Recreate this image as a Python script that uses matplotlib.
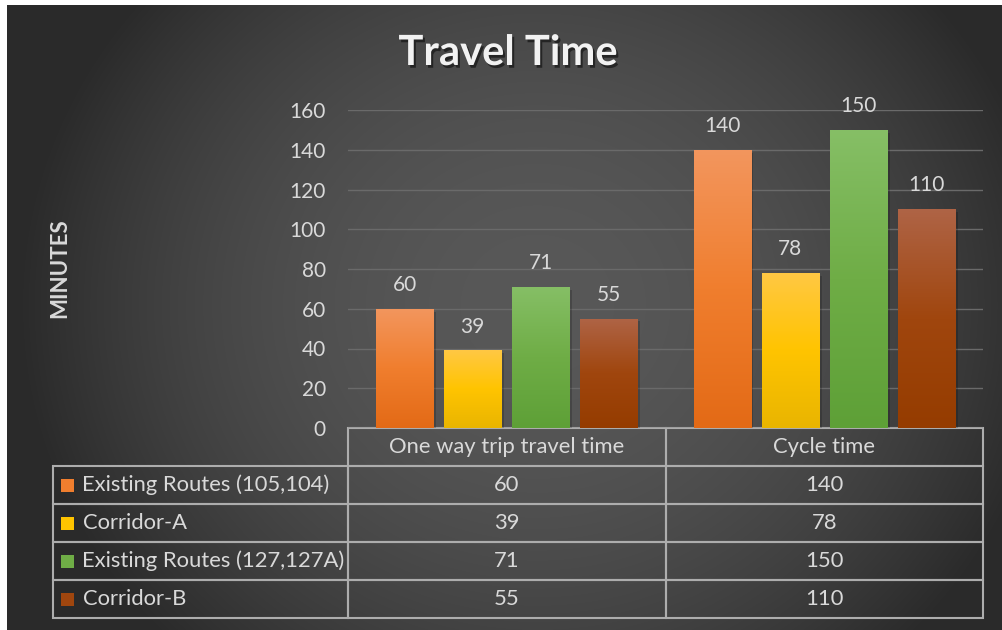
import numpy as np
import matplotlib.pyplot as plt
import matplotlib.patheffects as pe
from matplotlib.patches import Rectangle
from matplotlib.colors import LinearSegmentedColormap

plt.rcParams['font.family'] = ['Lato', 'DejaVu Sans']

# data
categories = ['One way trip travel time', 'Cycle time']
series = ['Existing Routes (105,104)', 'Corridor-A',
          'Existing Routes (127,127A)', 'Corridor-B']
existing_105_104 = [60, 140]
corridor_a = [39, 78]
existing_127 = [71, 150]
corridor_b = [55, 110]
values = [existing_105_104, corridor_a, existing_127, corridor_b]
yticks = [0, 20, 40, 60, 80, 100, 120, 140, 160]

# gradient stops per series: top, middle, bottom
bar_colors = [
    ['#F3965E', '#F07E2E', '#E36A16'],
    ['#FFC844', '#FFC400', '#E9B500'],
    ['#86BF66', '#6FAD46', '#5EA037'],
    ['#AF6446', '#A0460E', '#953C00'],
]
txt = '#D9D9D9'

W, H = 1003, 630
fig = plt.figure(figsize=(W / 100, H / 100), dpi=100, facecolor='white')

# background: soft radial gradient, offset like the original screenshot
bg = fig.add_axes([7 / W, 0, (W - 7) / W, (H - 5) / H])
bg.axis('off')
yy, xx = np.mgrid[0:625, 0:996]
r2 = ((xx - 530) / 520.0) ** 2 + ((yy - 300) / 480.0) ** 2
shade = 42 + 46 * np.clip(1 - r2, 0, 1)
bg.imshow(np.dstack([shade, shade, shade]) / 255.0, aspect='auto',
          extent=[0, 1, 0, 1])
bg.set_xlim(0, 1)
bg.set_ylim(0, 1)

# plot area
ax = fig.add_axes([348 / W, 1 - 428 / H, 635 / W, 318 / H])
ax.patch.set_alpha(0)
for s in ax.spines.values():
    s.set_visible(False)

x = np.arange(len(categories)) + 0.5
step = 0.2145
width = 0.18
grad = np.linspace(0, 1, 256).reshape(-1, 1)
for i, (vals, cols) in enumerate(zip(values, bar_colors)):
    bars = ax.bar(x + (i - 1.5) * step, vals, width, color=cols[1], zorder=3)
    cmap = LinearSegmentedColormap.from_list('g%d' % i, cols[::-1])
    for b in bars:
        b.set_path_effects([pe.SimplePatchShadow(offset=(2, -2), shadow_rgbFace='black', alpha=0.18),
                            pe.Normal()])
        im = ax.imshow(grad, cmap=cmap, origin='lower', aspect='auto', zorder=4,
                       extent=[b.get_x(), b.get_x() + b.get_width(), 0, b.get_height()])
        im.set_clip_path(b)
    ax.bar_label(bars, padding=10, color=txt, fontsize=15, zorder=5)

ax.set_xlim(0, 2)
ax.set_ylim(0, 160)
ax.set_yticks(yticks)
ax.set_xticks([])
ax.tick_params(axis='y', length=0, pad=16, labelsize=15, labelcolor=txt)
ax.yaxis.grid(True, color='#6A6A6A', linewidth=1)
ax.set_axisbelow(True)

ax.set_ylabel('MINUTES', fontsize=16, fontweight='bold', color=txt)
ax.yaxis.set_label_coords((70 - 348) / 635, (428 - 268) / 318)

# data table below the plot (first column holds the series names)
label_w = 295 / 635
tab_h = 190 / 318
row_h = tab_h / (len(series) + 1)
cell_text = [[name] + [str(v) for v in vals] for name, vals in zip(series, values)]
tab = ax.table(cellText=cell_text, colLabels=[''] + categories,
               cellLoc='center', colWidths=[label_w, 0.5, 0.5],
               bbox=[-label_w, -tab_h, 1 + label_w, tab_h])
tab.auto_set_font_size(False)
tab.set_fontsize(15.8)
for (r, c), cell in tab.get_celld().items():
    cell.set_edgecolor('#ADADAD')
    cell.set_facecolor('none')
    cell.set_linewidth(1.5)
    cell.get_text().set_color(txt)
    if c == 0:
        cell.get_text().set_horizontalalignment('left')
        cell._loc = 'left'
    if r == 0 and c == 0:
        cell.set_edgecolor('none')

# legend keys inside the row labels
for i, cols in enumerate(bar_colors):
    yc = -(i + 1.5) * row_h
    ax.add_patch(Rectangle((-label_w + 8 / 635, yc - 6.5 / 318), 13 / 635, 13 / 318,
                           transform=ax.transAxes, clip_on=False,
                           facecolor=cols[1], edgecolor='none', zorder=6))

fig.text(508 / W, 1 - 53 / H, 'Travel Time', ha='center', va='center',
         fontsize=30, fontweight='bold', color='#F2F2F2',
         path_effects=[pe.withSimplePatchShadow(offset=(1.5, -2), shadow_rgbFace='black', alpha=0.5)])

fig.savefig('out.png', dpi=100)
